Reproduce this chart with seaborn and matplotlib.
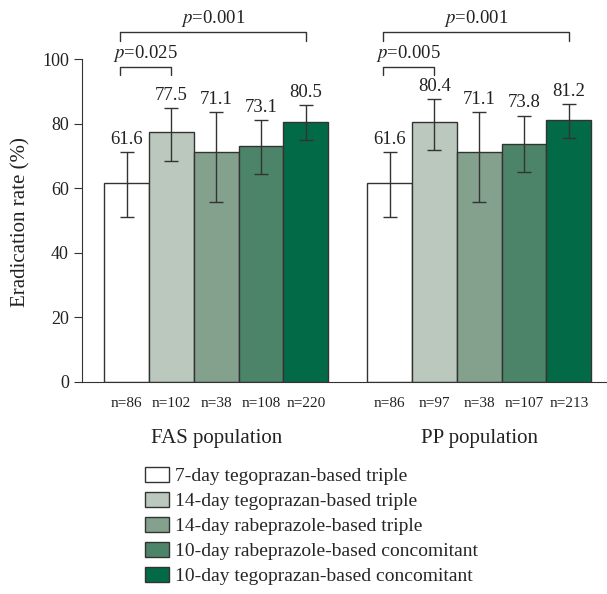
import pandas as pd
import matplotlib
matplotlib.use("Agg")
import matplotlib.pyplot as plt
import seaborn as sns

# data
regimens = ["7-day tegoprazan-based triple", "14-day tegoprazan-based triple",
            "14-day rabeprazole-based triple", "10-day rabeprazole-based concomitant",
            "10-day tegoprazan-based concomitant"]
groups = ["FAS population", "PP population"]
colors = ["#ffffff", "#bac8bd", "#83a18d", "#4b8468", "#036a47"]

fas_rate = [61.6, 77.5, 71.1, 73.1, 80.5]
fas_lo = [51.1, 68.5, 55.6, 64.3, 74.8]
fas_hi = [71.3, 84.8, 83.5, 81.0, 85.7]
fas_n = [86, 102, 38, 108, 220]

pp_rate = [61.6, 80.4, 71.1, 73.8, 81.2]
pp_lo = [51.1, 71.7, 55.6, 64.9, 75.5]
pp_hi = [71.3, 87.5, 83.5, 82.5, 86.0]
pp_n = [86, 97, 38, 107, 213]

p_labels = [["0.025", "0.001"], ["0.005", "0.001"]]

df = pd.DataFrame({
    "population": [groups[0]] * 5 + [groups[1]] * 5,
    "regimen": regimens * 2,
    "rate": fas_rate + pp_rate,
    "lo": fas_lo + pp_lo,
    "hi": fas_hi + pp_hi,
    "n": fas_n + pp_n,
})

sns.set_style("ticks")
plt.rcParams["font.family"] = ["Liberation Serif", "DejaVu Serif"]
plt.rcParams["mathtext.fontset"] = "stix"
dark = "#333333"
txt = "#222222"

fig = plt.figure(figsize=(6.07, 5.94), dpi=100)
ax = fig.add_axes([82 / 607, 1 - 382 / 594, 1 - 82 / 607, (382 - 59) / 594])

sns.barplot(data=df, x="population", y="rate", hue="regimen", palette=colors,
            width=0.852, edgecolor=dark, linewidth=1, errorbar=None, ax=ax,
            legend=True, saturation=1)

# bar centres from the drawn patches: centres[group][regimen]
centres = [[None] * 5, [None] * 5]
for i, cont in enumerate(ax.containers):
    for g, bar in enumerate(cont):
        centres[g][i] = bar.get_x() + bar.get_width() / 2

for g in range(2):
    sub = df[df["population"] == groups[g]]
    xs = centres[g]
    rates = sub["rate"].values
    lo = rates - sub["lo"].values
    hi = sub["hi"].values - rates
    ax.errorbar(xs, rates, yerr=[lo, hi], fmt="none", ecolor=dark,
                elinewidth=1, capsize=5, capthick=1, zorder=3)
    for x, top, r in zip(xs, sub["hi"].values, rates):
        ax.annotate(f"{r:.1f}", (x, top), xytext=(0, 3), textcoords="offset points",
                    ha="center", va="bottom", fontsize=13.5, color=txt)
    for x, n in zip(xs, sub["n"].values):
        ax.text(x, -4.5, f"n={n}", ha="center", va="top", fontsize=11, color=txt)
    ax.text((xs[0] + xs[-1]) / 2, -14.5, groups[g], ha="center", va="top",
            fontsize=15, color=txt)

    # significance brackets
    x0 = xs[0] - 0.023
    for (x1, ytop, ylow, ptxt) in [(xs[1], 97.6, 95.2, p_labels[g][0]),
                                    (xs[4], 108.3, 105.5, p_labels[g][1])]:
        ax.plot([x0, x0, x1, x1], [ylow, ytop, ytop, ylow], color=dark, lw=1,
                clip_on=False)
        ax.text((x0 + x1) / 2, ytop + 1.0, f"$p$={ptxt}", ha="center",
                va="bottom", fontsize=13.5, color=txt)

ax.set_xlim(-0.51, 1.486)
ax.set_ylim(0, 100)
ax.set_yticks([0, 20, 40, 60, 80, 100])
ax.set_xticks([])
ax.set_xlabel("")
ax.set_ylabel("Eradication rate (%)", fontsize=15, color=txt)
ax.yaxis.set_label_coords(-52 / 525, 0.495)
ax.tick_params(axis="y", labelsize=13, colors=dark, labelcolor=txt, length=6)
sns.despine(ax=ax)
for s in ["left", "bottom"]:
    ax.spines[s].set_color(dark)

handles, labels = ax.get_legend_handles_labels()
ax.get_legend().remove()
fig.legend(handles, labels, loc="upper left", bbox_to_anchor=(145 / 607, 1 - 467 / 594),
           frameon=False, fontsize=14, handlelength=1.25, handleheight=0.78,
           labelspacing=0.36, handletextpad=0.3, borderpad=0, borderaxespad=0)

fig.savefig("out.png", dpi=100)
